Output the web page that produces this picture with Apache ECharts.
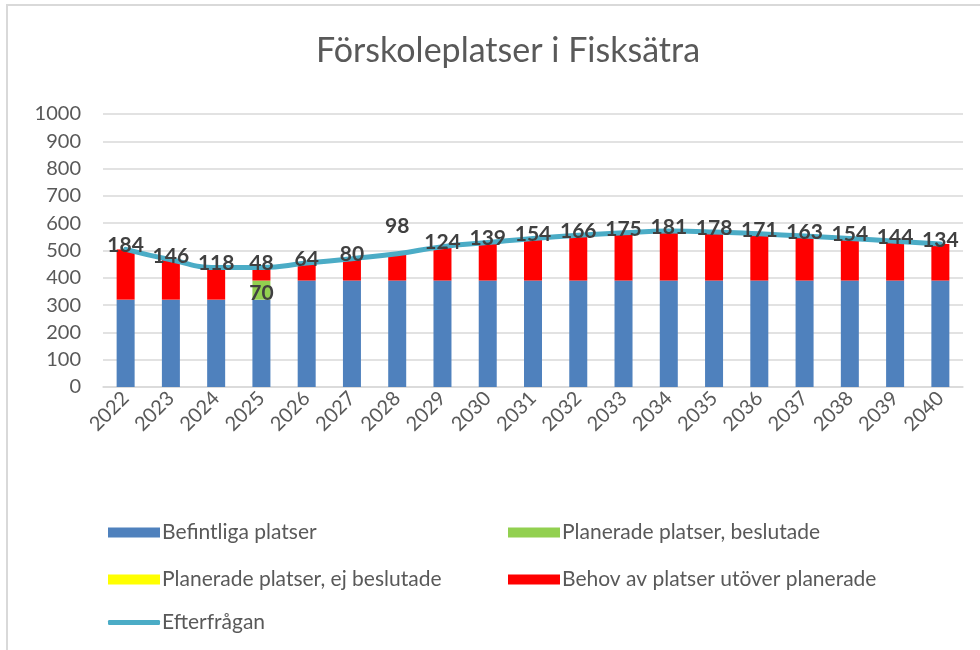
<!DOCTYPE html>
<html>
<head>
<meta charset="utf-8">
<script src="https://cdn.jsdelivr.net/npm/echarts@6/dist/echarts.min.js"></script>
<style>
  html, body { margin: 0; padding: 0; background: #fff; }
  #chart { width: 980px; height: 650px; }
</style>
</head>
<body>
<div id="chart"></div>
<script>
// Data
const years = ['2022', '2023', '2024', '2025', '2026', '2027', '2028', '2029', '2030', '2031',
               '2032', '2033', '2034', '2035', '2036', '2037', '2038', '2039', '2040'];
const befintliga = [320, 320, 320, 320, 390, 390, 390, 390, 390, 390,
                    390, 390, 390, 390, 390, 390, 390, 390, 390];
const beslutade = [null, null, null, 70, null, null, null, null, null, null,
                   null, null, null, null, null, null, null, null, null];
const ejBeslutade = [null, null, null, null, null, null, null, null, null, null,
                     null, null, null, null, null, null, null, null, null];
const behov = [184, 146, 118, 48, 64, 80, 98, 124, 139, 154,
               166, 175, 181, 178, 171, 163, 154, 144, 134];
const efterfragan = [504, 466, 438, 438, 454, 470, 488, 514, 529, 544,
                     556, 565, 571, 568, 561, 553, 544, 534, 524];
const yTicks = [0, 100, 200, 300, 400, 500, 600, 700, 800, 900, 1000];

const FONT = 'Lato, "Open Sans", sans-serif';
const GREY = '#595959';

const chart = echarts.init(document.getElementById('chart'));

// legend entries placed like the Excel two-column layout
const legendDefs = [
    {name: 'Befintliga platser', left: 103, top: 517, icon: 'rect'},
    {name: 'Planerade platser, beslutade', left: 503, top: 517, icon: 'rect'},
    {name: 'Planerade platser, ej beslutade', left: 103, top: 564, icon: 'rect'},
    {name: 'Behov av platser utöver planerade', left: 503, top: 564, icon: 'rect'},
    {name: 'Efterfrågan', left: 103, top: 607, icon: 'roundRect'}
];

const legends = legendDefs.map(function(d) {
    return {
        data: [{name: d.name, icon: d.icon}],
        left: d.left,
        top: d.top,
        itemWidth: 52,
        itemHeight: d.icon === 'roundRect' ? 5 : 10,
        itemGap: 4,
        selectedMode: false,
        textStyle: {fontFamily: FONT, fontSize: 21, color: GREY, padding: [0, 0, 0, -3]}
    };
});

// labels for the red segment ride on the demand line so they draw above it
const lineData = efterfragan.map(function(v, i) {
    if (i === 6) {
        return {value: v, label: {offset: [0, -28]}};   // 2028 label sits higher
    }
    return v;
});

const option = {
    animation: false,
    backgroundColor: '#fff',
    title: {
        text: 'Förskoleplatser i Fisksätra',
        left: 311,
        top: 29,
        textStyle: {fontFamily: FONT, fontSize: 34, fontWeight: 'normal', color: GREY}
    },
    graphic: [{
        type: 'rect',
        shape: {x: 7, y: 5, width: 990, height: 660},
        style: {fill: 'none', stroke: '#d9d9d9', lineWidth: 2},
        silent: true
    }],
    legend: legends,
    grid: {left: 103, right: 17, top: 114, bottom: 263},
    xAxis: {
        type: 'category',
        data: years,
        axisLine: {lineStyle: {color: '#d9d9d9', width: 1.5}},
        axisTick: {show: false},
        axisLabel: {
            rotate: 45,
            interval: 0,
            margin: 8,
            color: GREY,
            fontFamily: FONT,
            fontSize: 20
        }
    },
    yAxis: {
        type: 'value',
        min: yTicks[0],
        max: yTicks[yTicks.length - 1],
        interval: 100,
        axisLine: {show: false},
        axisTick: {show: false},
        axisLabel: {
            color: GREY, fontFamily: FONT, fontSize: 20, margin: 22,
            formatter: function(v) { return String(v); }
        },
        splitLine: {lineStyle: {color: '#d9d9d9', width: 1.5}}
    },
    series: [
        {
            name: 'Befintliga platser',
            type: 'bar',
            stack: 'platser',
            barWidth: 18,
            data: befintliga,
            itemStyle: {color: '#4f81bd'}
        },
        {
            name: 'Planerade platser, beslutade',
            type: 'bar',
            stack: 'platser',
            data: beslutade,
            itemStyle: {color: '#92d050'},
            label: {
                show: true,
                position: 'inside',
                offset: [0, 3],
                color: '#404040',
                fontFamily: FONT,
                fontWeight: 'bold',
                fontSize: 21
            }
        },
        {
            name: 'Planerade platser, ej beslutade',
            type: 'bar',
            stack: 'platser',
            data: ejBeslutade,
            itemStyle: {color: '#ffff00'}
        },
        {
            name: 'Behov av platser utöver planerade',
            type: 'bar',
            stack: 'platser',
            data: behov,
            itemStyle: {color: '#ff0000'}
        },
        {
            name: 'Efterfrågan',
            type: 'line',
            data: lineData,
            smooth: 0.5,
            symbol: 'circle',
            symbolSize: 0,
            showSymbol: true,
            z: 3,
            lineStyle: {color: '#4bacc6', width: 5, cap: 'round'},
            itemStyle: {color: '#4bacc6'},
            label: {
                show: true,
                position: 'inside',
                offset: [0, -4],
                formatter: function(p) { return String(behov[p.dataIndex]); },
                color: '#404040',
                fontFamily: FONT,
                fontWeight: 'bold',
                fontSize: 21
            }
        }
    ]
};

chart.setOption(option);
window.addEventListener('resize', function() { chart.resize(); });
</script>
</body>
</html>
